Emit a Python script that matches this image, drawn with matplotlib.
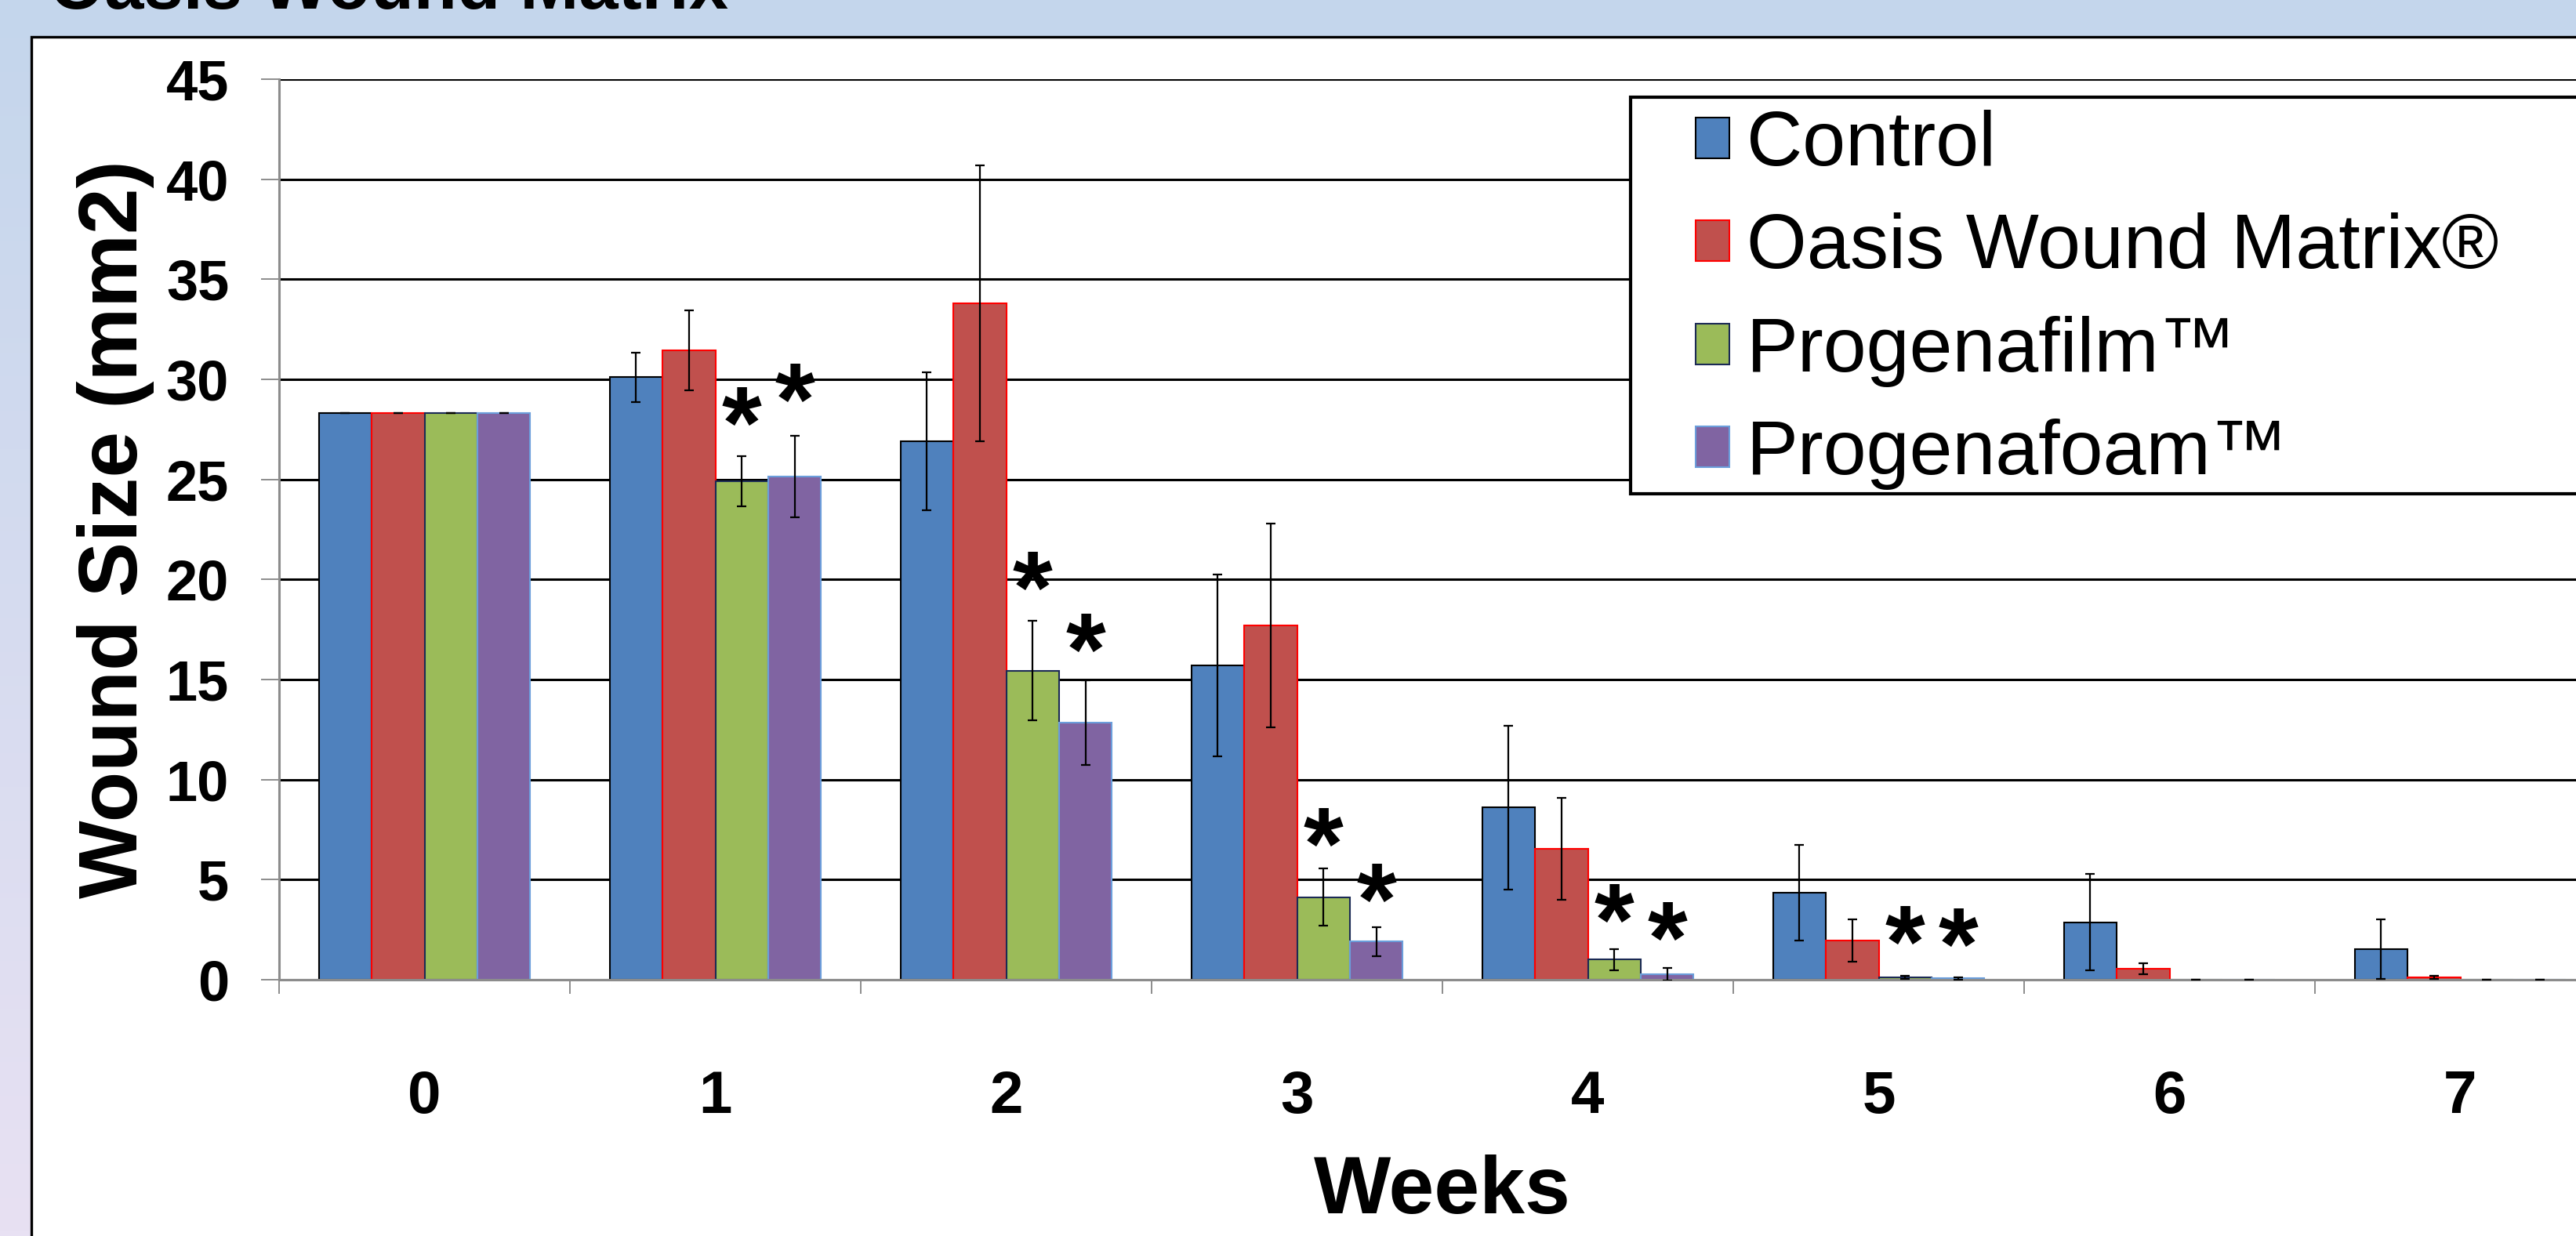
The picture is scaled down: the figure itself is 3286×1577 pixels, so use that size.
import numpy as np
import matplotlib
matplotlib.use("Agg")
import matplotlib.pyplot as plt
from matplotlib.patches import Rectangle
from matplotlib.textpath import TextPath
from matplotlib.font_manager import FontProperties

plt.rcParams['font.family'] = ['Liberation Sans', 'DejaVu Sans']

# ---- data (wound size in mm2, mean and error) ----
weeks = [0, 1, 2, 3, 4, 5, 6, 7]
groups = ["Control", "Oasis Wound Matrix®", "Progenafilm™", "Progenafoam™"]

control = [28.3, 30.1, 26.9, 15.7, 8.6, 4.35, 2.87, 1.53]
control_err = [0, 1.25, 3.45, 4.55, 4.1, 2.4, 2.4, 1.48]
oasis = [28.3, 31.45, 33.8, 17.7, 6.55, 1.96, 0.55, 0.12]
oasis_err = [0, 2.0, 6.9, 5.1, 2.55, 1.05, 0.27, 0.08]
film = [28.3, 24.9, 15.45, 4.13, 1.0, 0.12, 0, 0]
film_err = [0, 1.26, 2.5, 1.42, 0.53, 0.08, 0, 0]
foam = [28.3, 25.15, 12.85, 1.9, 0.27, 0.07, 0, 0]
foam_err = [0, 2.03, 2.12, 0.72, 0.3, 0.06, 0, 0]

# significance asterisks over the Progenafilm / Progenafoam bars
star_weeks = [1, 2, 3, 4, 5]
film_star_y = [28.6, 20.4, 7.6, 3.8, 2.67]
foam_star_y = [29.8, 17.3, 4.8, 2.9, 2.57]

fill = ["#4f81bd", "#c0504d", "#9bbb59", "#8064a2"]
edge = ["#000000", "#ff0000", "#1b2a55", "#6b9edb"]
grey = "#8c8c8c"

W, H = 3286, 1577
fig = plt.figure(figsize=(W / 100, H / 100), dpi=100)

# slide background (blue -> lavender) and the white chart panel
bg = fig.add_axes([0, 0, 1, 1], zorder=-2)
t = np.linspace(0, 1, 256)[:, None, None]
c_top = np.array([196, 214, 236]) / 255
c_bot = np.array([232, 225, 243]) / 255
bg.imshow(c_top + (c_bot - c_top) * t, aspect='auto', extent=[0, 1, 0, 1])
bg.add_patch(Rectangle((40 / W, -0.1), 1.2, 1 - 47 / H + 0.1,
                       facecolor='white', edgecolor='black', lw=2.4))
bg.set_xlim(0, 1)
bg.set_ylim(0, 1)
bg.axis('off')

# slide title, cut by the top edge as in the original
fig.text(63 / W, 1 - 11 / H, "Oasis Wound Matrix", fontsize=65,
         fontweight='bold', va='baseline')

# ---- bar chart ----
ax = fig.add_axes([356 / W, 1 - 1250 / H, 2968 / W, 1149 / H])
ax.set_facecolor('none')

x = np.arange(len(weeks))
w = 1 / 5.5
series = [(control, control_err), (oasis, oasis_err), (film, film_err), (foam, foam_err)]
bars = []
for i, (vals, errs) in enumerate(series):
    b = ax.bar(x + (i - 1.5) * w, vals, w, yerr=errs, color=fill[i],
               edgecolor=edge[i], linewidth=1.5, label=groups[i], zorder=2,
               error_kw=dict(ecolor='black', elinewidth=1.6, capsize=4.5,
                             capthick=1.6, zorder=3))
    bars.append(b)

ax.set_xlim(-0.5, 7.5)
ax.set_ylim(0, 45)
ax.set_axisbelow(True)
ax.yaxis.grid(True, color='black', lw=2.2)

for s in ['top', 'right']:
    ax.spines[s].set_visible(False)
for s in ['left', 'bottom']:
    ax.spines[s].set_color(grey)
    ax.spines[s].set_linewidth(2.2)

ax.set_xticks(np.arange(-0.5, 8, 1))
ax.set_xticklabels([])
ax.set_xticks(x, minor=True)
ax.set_xticklabels([str(wk) for wk in weeks], minor=True, fontsize=55, fontweight='bold')
ax.tick_params(axis='x', which='major', length=13, width=1.4, color=grey, direction='out')
ax.tick_params(axis='x', which='minor', length=0, pad=83)

ax.set_yticks(range(0, 46, 5))
ax.set_yticklabels([str(v) for v in range(0, 46, 5)], fontsize=52, fontweight='bold')
ax.tick_params(axis='y', length=16.5, width=1.4, color=grey, pad=29.5)

ax.set_ylabel("Wound Size (mm2)", fontsize=76, fontweight='bold', va='center')
ax.yaxis.set_label_coords(-0.0701, 0.5)
ax.set_xlabel("Weeks", fontsize=75, fontweight='bold', va='baseline')
ax.xaxis.set_label_coords(0.5, -298 / 1149)

# asterisks, vertically centred on the given values
fp = FontProperties(family='Liberation Sans', weight='bold')
ext = TextPath((0, 0), '*', size=1, prop=fp).get_extents()
star_mid = (ext.y0 + ext.y1) / 2
star_fs = 94
for wk, yf, yo in zip(star_weeks, film_star_y, foam_star_y):
    for off, yy in ((0.5, yf), (1.5, yo)):
        ax.annotate('*', (wk + off * w, yy), xytext=(0, -star_mid * star_fs),
                    textcoords='offset points', ha='center', va='baseline',
                    fontsize=star_fs, fontweight='bold', zorder=4)

# legend box (runs off the right edge like the original slide)
fig.patches.append(Rectangle((2080 / W, 1 - 630 / H), 0.5, (630 - 124) / H,
                             transform=fig.transFigure, figure=fig,
                             facecolor='white', edgecolor='black', lw=3, zorder=4))
fig.legend(handles=bars, labels=groups, loc='upper left',
           bbox_to_anchor=(2163 / W, 1 - 140 / H), frameon=False, fontsize=71,
           handlelength=0.436, handleheight=0.436, handletextpad=0.22,
           labelspacing=0.41, borderpad=0, borderaxespad=0).set_zorder(6)

fig.savefig("out.png", dpi=100)
